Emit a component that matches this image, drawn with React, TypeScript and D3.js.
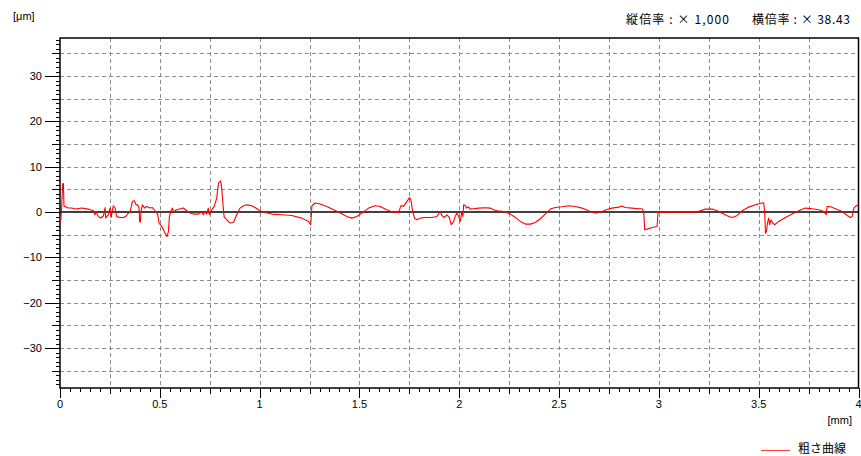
import { useEffect, useRef } from 'react'
import * as d3 from 'd3'

// roughness profile
const profileX = [
  0, 0.003, 0.008, 0.013, 0.017, 0.02, 0.025, 0.04, 0.058, 0.08, 0.109, 0.142, 0.167, 0.175, 0.18, 0.192,
  0.205, 0.218, 0.226, 0.229, 0.242, 0.251, 0.256, 0.267, 0.276, 0.284, 0.301, 0.317, 0.329, 0.339, 0.351,
  0.363, 0.373, 0.381, 0.389, 0.396, 0.399, 0.403, 0.406, 0.413, 0.423, 0.434, 0.451, 0.463, 0.476, 0.489,
  0.496, 0.51, 0.526, 0.536, 0.543, 0.548, 0.556, 0.563, 0.568, 0.576, 0.585, 0.618, 0.635, 0.652, 0.668,
  0.693, 0.71, 0.718, 0.727, 0.735, 0.743, 0.748, 0.76, 0.773, 0.785, 0.794, 0.805, 0.81, 0.815, 0.822,
  0.835, 0.852, 0.869, 0.885, 0.902, 0.919, 0.935, 0.961, 0.977, 0.994, 1.011, 1.028, 1.061, 1.111, 1.161,
  1.211, 1.245, 1.256, 1.262, 1.278, 1.303, 1.337, 1.37, 1.404, 1.437, 1.462, 1.487, 1.512, 1.546, 1.579,
  1.604, 1.637, 1.663, 1.696, 1.709, 1.721, 1.738, 1.751, 1.759, 1.766, 1.776, 1.788, 1.805, 1.83, 1.863,
  1.888, 1.905, 1.913, 1.926, 1.938, 1.95, 1.96, 1.972, 1.98, 1.988, 1.997, 2.005, 2.013, 2.018, 2.022,
  2.03, 2.038, 2.043, 2.047, 2.055, 2.072, 2.097, 2.13, 2.155, 2.172, 2.189, 2.214, 2.239, 2.256, 2.281,
  2.306, 2.331, 2.356, 2.381, 2.406, 2.431, 2.456, 2.481, 2.515, 2.548, 2.581, 2.615, 2.648, 2.673, 2.69,
  2.715, 2.74, 2.765, 2.799, 2.815, 2.832, 2.865, 2.899, 2.916, 2.924, 2.929, 2.941, 2.966, 2.991, 2.996,
  3.003, 3.191, 3.2, 3.233, 3.267, 3.292, 3.325, 3.35, 3.37, 3.392, 3.417, 3.45, 3.484, 3.517, 3.525, 3.53,
  3.534, 3.539, 3.544, 3.55, 3.555, 3.562, 3.57, 3.58, 3.6, 3.634, 3.667, 3.701, 3.734, 3.768, 3.801, 3.826,
  3.838, 3.843, 3.86, 3.885, 3.918, 3.943, 3.96, 3.968, 3.977, 3.985, 3.993, 4.0,
]
const profileY = [
  -1.7, -2.0, 0.5, 6.2, 6.3, 1.3, 1.25, 0.9, 0.9, 0.7, 0.9, 0.66, 0.3, -0.6, 0.15, -1.0,
  -1.3, -0.8, 1.0, -1.3, -0.6, 0.9, -1.2, 1.4, 0.9, -1.0, -1.2, -1.2, -1.0, -0.4, 0.0,
  2.4, 2.5, 1.6, 1.6, 0.9, -2.1, -2.2, 0.2, 1.6, 0.9, 1.25, 0.9, 1.0, 0.3, -0.4,
  -2.4, -3.2, -4.6, -5.4, -4.3, -1.0, 0.3, 0.88, 0.0, 0.3, 0.5, 0.9, 0.3, -0.2, -0.44,
  -0.44, 0.0, -0.6, 0.15, -0.44, 0.9, -0.6, 0.5, 1.25, 3.1, 6.4, 6.9, 5.3, 2.4, -1.0,
  -1.7, -2.4, -2.3, -0.6, 0.88, 1.4, 1.6, 1.4, 1.0, 0.5, 0.15, -0.07, -0.44, -0.59, -0.74,
  -1.33, -2.06, -2.8, 1.4, 2.0, 1.77, 1.25, 0.52, -0.22, -0.96, -1.33, -0.96, -0.22, 0.88, 1.4,
  1.25, 0.52, 0.0, -0.07, 1.47, 1.25, 2.36, 3.2, 2.5, 0.15, -1.33, -1.7, -1.33, -1.18, -1.18,
  -0.96, 0.15, -0.74, -1.18, -0.59, -1.18, -2.8, -2.06, -0.96, -0.22, -0.96, -2.06, 0.15, -0.96, 1.6,
  1.47, 0.88, 1.1, 1.1, 0.66, 0.74, 0.88, 0.96, 0.88, 0.52, 0.3, 0.15, -0.07, -0.44, -1.18,
  -2.06, -2.65, -2.65, -2.29, -1.47, -0.44, 0.66, 1.03, 1.18, 1.4, 1.25, 0.88, 0.3, -0.07, -0.22,
  0.15, 0.59, 0.88, 1.1, 1.33, 1.03, 0.88, 0.74, 0.74, 0.15, -3.9, -3.76, -3.4, -3.17, 0.15,
  0.0, 0.0, 0.2, 0.66, 0.66, 0.3, -0.44, -0.96, -1.18, -0.74, 0.3, 1.1, 1.62, 1.99, 2.06, 0.15,
  -4.65, -4.28, -2.43, -1.33, -2.8, -1.7, -2.43, -2.8, -2.06, -1.18, -0.44, 0.3, 0.88, 0.74, 0.52, 0.15,
  -0.59, 1.25, 1.18, 0.74, 0.15, -0.74, -1.18, -0.96, 0.88, 1.25, 1.47, 1.77,
]

const xLabels = ['0', '0.5', '1', '1.5', '2', '2.5', '3', '3.5', '4']
const yLabelValues = [30, 20, 10, 0, -10, -20, -30]

const W = 861
const H = 456
const plot = { left: 60, right: 858.5, top: 38, bottom: 388 }
const latin = "'Liberation Sans', Arial, sans-serif"
const cjk = "'Noto Sans CJK JP', sans-serif"

export default function App() {
  const ref = useRef<SVGSVGElement>(null)

  useEffect(() => {
    const el = ref.current
    if (!el) return
    const svg = d3.select(el)
    svg.selectAll('*').remove()

    const x = d3.scaleLinear().domain([0, 4]).range([plot.left, plot.right])
    const y = d3.scaleLinear().domain([-38.8, 38.4]).range([plot.bottom, plot.top])

    svg.append('rect').attr('width', W).attr('height', H).attr('fill', '#fff')

    // grid
    const grid = svg.append('g').attr('stroke', '#8c8c8c').attr('stroke-dasharray', '4,3').attr('stroke-width', 1)
    const vGrid = d3.range(1, 16).map(i => i * 0.25)
    grid.selectAll('line.v').data(vGrid).join('line')
      .attr('x1', d => Math.round(x(d)) + 0.5).attr('x2', d => Math.round(x(d)) + 0.5)
      .attr('y1', plot.top).attr('y2', plot.bottom)
    const hGrid = d3.range(-7, 8).filter(i => i !== 0).map(i => i * 5)
    grid.selectAll('line.h').data(hGrid).join('line')
      .attr('y1', d => Math.round(y(d)) + 0.5).attr('y2', d => Math.round(y(d)) + 0.5)
      .attr('x1', plot.left).attr('x2', plot.right)

    // frame
    svg.append('rect')
      .attr('x', plot.left).attr('y', plot.top)
      .attr('width', plot.right - plot.left).attr('height', plot.bottom - plot.top)
      .attr('fill', 'none').attr('stroke', '#000').attr('stroke-width', 1.5)

    // zero line
    svg.append('line')
      .attr('x1', plot.left).attr('x2', plot.right)
      .attr('y1', y(0)).attr('y2', y(0))
      .attr('stroke', '#000').attr('stroke-width', 1.5)

    // y ticks every 1 um
    const yTicks = d3.range(-38, 39)
    svg.append('g').attr('stroke', '#000').attr('stroke-width', 1)
      .selectAll('line').data(yTicks).join('line')
      .attr('y1', d => Math.round(y(d)) + 0.5).attr('y2', d => Math.round(y(d)) + 0.5)
      .attr('x1', d => plot.left - (d % 10 === 0 ? 15 : d % 5 === 0 ? 8 : 4))
      .attr('x2', plot.left)

    svg.append('g').selectAll('text').data(yLabelValues).join('text')
      .attr('x', 42).attr('y', d => y(d))
      .attr('dy', '0.35em')
      .attr('text-anchor', 'end')
      .attr('font-family', latin).attr('font-size', 11)
      .text(d => (d < 0 ? '\u2212' + Math.abs(d) : String(d)))

    // x ticks every 0.05 mm
    const xTicks = d3.range(0, 81).map(i => i / 20)
    svg.append('g').attr('stroke', '#000').attr('stroke-width', 1)
      .selectAll('line').data(xTicks).join('line')
      .attr('x1', d => Math.round(x(d)) + 0.5).attr('x2', d => Math.round(x(d)) + 0.5)
      .attr('y1', plot.bottom)
      .attr('y2', (d, i) => plot.bottom + (i % 10 === 0 ? 10 : i % 5 === 0 ? 6 : 4))

    svg.append('g').selectAll('text').data(xLabels).join('text')
      .attr('x', d => x(+d)).attr('y', 408)
      .attr('text-anchor', 'middle')
      .attr('font-family', latin).attr('font-size', 11)
      .text(d => d)

    // profile
    const pts = profileX.map((v, i) => [v, profileY[i]] as [number, number])
    const line = d3.line<[number, number]>().x(d => x(d[0])).y(d => y(d[1]))
    svg.append('path').datum(pts)
      .attr('d', line)
      .attr('fill', 'none').attr('stroke', '#ff0000').attr('stroke-width', 1.1)
      .attr('stroke-linejoin', 'round')

    // labels
    svg.append('text').attr('x', 13).attr('y', 20)
      .attr('font-family', latin).attr('font-size', 11).text('[μm]')
    svg.append('text').attr('x', 852).attr('y', 424).attr('text-anchor', 'end')
      .attr('font-family', latin).attr('font-size', 11).text('[mm]')
    svg.append('text').attr('x', 626).attr('y', 24)
      .attr('font-family', cjk).attr('font-size', 12)
      .attr('textLength', 103).attr('lengthAdjust', 'spacing')
      .text('縦倍率 : × 1,000')
    svg.append('text').attr('x', 752).attr('y', 24)
      .attr('font-family', cjk).attr('font-size', 12)
      .attr('textLength', 98).attr('lengthAdjust', 'spacing')
      .text('横倍率 : × 38.43')

    // legend
    svg.append('line').attr('x1', 761).attr('x2', 790).attr('y1', 450.5).attr('y2', 450.5)
      .attr('stroke', '#ff4040').attr('stroke-width', 1)
    svg.append('text').attr('x', 798).attr('y', 453)
      .attr('font-family', cjk).attr('font-size', 12).text('粗さ曲線')
  }, [])

  return (
    <svg ref={ref} width={W} height={H} style={{ position: 'absolute', left: 0, top: 0 }} />
  )
}
